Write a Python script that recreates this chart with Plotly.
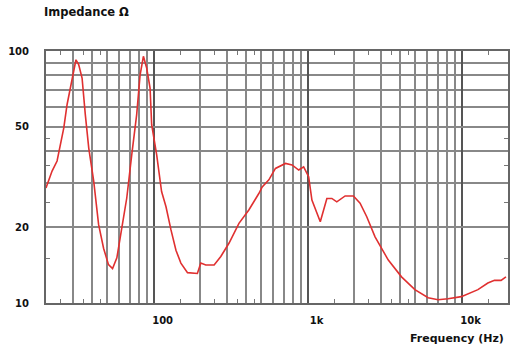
import math
import plotly.graph_objects as go

# impedance curve (Hz, ohm)
freq = [20, 21.9, 23.6, 24.8, 26.1, 27.4, 28.8, 30.3, 31.3, 32.6, 34.3, 36.0,
        37.9, 40.8, 43.9, 47.3, 50.9, 54.1, 57.7, 62.1, 66.9, 72.1, 77.6, 81.7,
        85.8, 90.1, 94.8, 97.1, 104.6, 112.6, 120.3, 129.6, 139.6, 150.3, 165.9,
        192.3, 202.4, 218, 247, 273, 309, 358, 415, 482, 507, 560, 618, 718,
        792, 875, 942, 1015, 1066, 1208, 1333, 1436, 1546, 1752, 1983, 2190,
        2420, 2740, 2880, 3340, 4070, 4970, 6060, 7030, 8160, 9950, 12760,
        14800, 16340, 18030, 19400]
impedance = [28.6, 33.4, 36.6, 42.5, 49.5, 61.2, 71.3, 83.3, 92.3, 88.3, 78.1,
             55.9, 41.2, 30.5, 20.5, 16.5, 14.2, 13.7, 15.1, 19.8, 26.1, 38.8,
             55.9, 80.5, 95.3, 85.6, 71.3, 51.0, 38.8, 27.7, 24.1, 19.5, 16.2,
             14.4, 13.2, 13.1, 14.4, 14.15, 14.15, 15.3, 17.3, 20.7, 23.4, 27.2,
             28.9, 30.8, 34.2, 35.8, 35.3, 33.7, 34.7, 31.7, 25.6, 21.0, 26.0,
             26.0, 25.2, 26.6, 26.6, 24.9, 22.0, 18.3, 17.3, 14.8, 12.7, 11.3,
             10.5, 10.3, 10.4, 10.6, 11.3, 12.0, 12.3, 12.3, 12.7]

x_labels = ["100", "1k", "10k"]
x_label_vals = [100, 1000, 10000]
x_grid = [d * m for d in (10, 100, 1000) for m in range(2, 10)] + [20000]
x_minor = [d * m for d in (10, 100, 1000, 10000) for m in (1.5, 2.5, 3.5, 4.5)]
x_minor = [v for v in x_minor if 20 < v < 20000]

y_label_vals = [10, 20, 50, 100]
y_grid = [20, 30, 40, 50, 60, 70, 80, 90]
y_minor = [15, 25, 35, 45]

lbl_font = dict(family="DejaVu Sans", size=10, color="#111", weight="bold")
grid_col = "#888"

fig = go.Figure(go.Scatter(
    x=freq, y=impedance, mode="lines",
    line=dict(color="#e03030", width=1.6),
    hoverinfo="skip", showlegend=False
))

xr = [math.log10(20), math.log10(20000)]
yr = [1, 2]

fig.update_layout(
    width=510, height=354,
    margin=dict(l=46, r=0, t=51, b=51),
    paper_bgcolor="white", plot_bgcolor="white",
    xaxis=dict(
        type="log", range=xr,
        tickvals=x_label_vals, ticktext=x_labels, tickfont=lbl_font,
        ticks="", ticklabelstandoff=7, ticklabelshift=9,
        showgrid=True, gridcolor="#555", gridwidth=1.8,
        showline=True, linecolor="#666", linewidth=2, mirror=True,
        minor=dict(tickvals=x_grid, showgrid=True, gridcolor=grid_col,
                   gridwidth=1.8, ticks=""),
        zeroline=False,
    ),
    xaxis2=dict(
        type="log", range=xr, overlaying="x", side="bottom",
        tickvals=x_minor, ticks="inside", ticklen=4, tickwidth=1.2,
        tickcolor="#777", showticklabels=False, showgrid=False,
        mirror="ticks", showline=False, zeroline=False,
    ),
    yaxis=dict(
        type="log", range=yr,
        tickvals=y_label_vals, ticktext=[str(v) for v in y_label_vals],
        tickfont=lbl_font, ticks="", ticklabelstandoff=13,
        showgrid=True, gridcolor=grid_col, gridwidth=1.8,
        showline=True, linecolor="#666", linewidth=2, mirror=True,
        minor=dict(tickvals=y_grid, showgrid=True, gridcolor=grid_col,
                   gridwidth=1.8, ticks=""),
        zeroline=False,
    ),
    yaxis2=dict(
        type="log", range=yr, overlaying="y", side="left",
        tickvals=y_minor, ticks="inside", ticklen=4, tickwidth=1.2,
        tickcolor="#777", showticklabels=False, showgrid=False,
        mirror="ticks", showline=False, zeroline=False,
    ),
    annotations=[
        dict(text="Impedance Ω", xref="paper", yref="paper", x=0, y=1,
             xanchor="left", yanchor="middle", xshift=-4, yshift=39,
             showarrow=False, font=dict(lbl_font, size=11.5)),
        dict(text="Frequency (Hz)", xref="paper", yref="paper", x=1, y=0,
             xanchor="right", yanchor="middle", xshift=-2, yshift=-35,
             showarrow=False, font=dict(lbl_font, size=11)),
    ],
)

# dummy trace so the overlay axes with minor ticks are drawn
fig.add_trace(go.Scatter(x=[100], y=[20], xaxis="x2", yaxis="y2",
                         mode="markers", marker=dict(opacity=0),
                         hoverinfo="skip", showlegend=False))

# drop the default page margin so the chart sits at the window's corner
fig.write_html("out.html", config={"displayModeBar": False},
               post_script="document.body.style.margin='0';")
